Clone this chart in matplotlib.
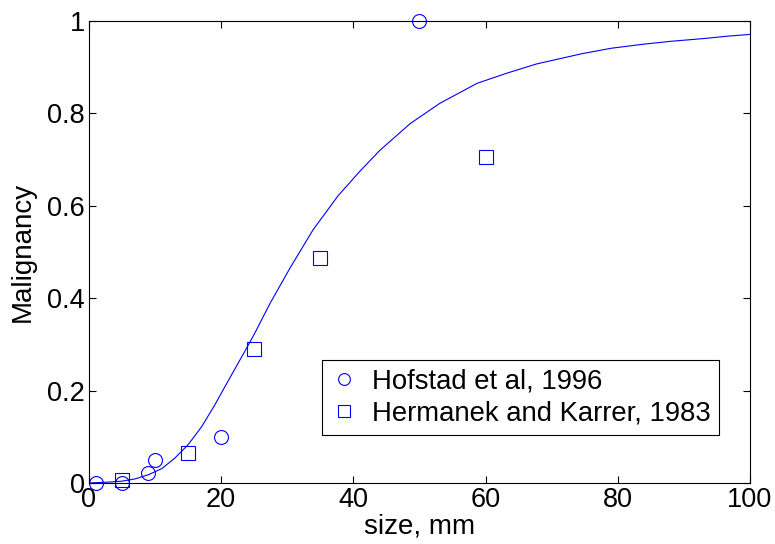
import numpy as np
import matplotlib
matplotlib.use("Agg")
import matplotlib.pyplot as plt

plt.rcParams['font.family'] = ['Liberation Sans', 'DejaVu Sans']

# fitted curve
curve_x = [0, 3, 5, 7, 9, 11, 13, 15, 17, 19, 20, 22, 24, 25, 27.4, 30.4,
           33.9, 37.7, 41, 44, 48.6, 53.1, 58.7, 63.2, 67.7, 74.5, 79, 84,
           88, 93, 96.5, 100]
curve_y = [0.0, 0.002, 0.004, 0.009, 0.018, 0.031, 0.054, 0.083, 0.121,
           0.168, 0.194, 0.245, 0.296, 0.322, 0.389, 0.465, 0.548, 0.622,
           0.675, 0.72, 0.778, 0.822, 0.865, 0.887, 0.907, 0.929, 0.941,
           0.950, 0.956, 0.962, 0.967, 0.971]

# Hofstad et al, 1996
hof_x = [1, 5, 9, 10, 20, 50]
hof_y = [0.0, 0.0, 0.021, 0.05, 0.1, 1.0]

# Hermanek and Karrer, 1983
her_x = [5, 15, 25, 35, 60]
her_y = [0.006, 0.066, 0.29, 0.488, 0.705]

fig = plt.figure(figsize=(7.75, 5.44), dpi=100)
ax = fig.add_axes([0.1148, 0.1121, 0.8529, 0.8493])

ax.plot(curve_x, curve_y, color='blue', lw=0.8)
ax.plot(hof_x, hof_y, 'o', mfc='none', mec='blue', ms=10, mew=0.8,
        clip_on=False, label='Hofstad et al, 1996')
ax.plot(her_x, her_y, 's', mfc='none', mec='blue', ms=10, mew=0.8,
        clip_on=False, label='Hermanek and Karrer, 1983')

ax.set_xlim(0, 100)
ax.set_ylim(0, 1)
ax.set_xticks([0, 20, 40, 60, 80, 100])
ax.set_yticks([0, 0.2, 0.4, 0.6, 0.8, 1])
ax.set_yticklabels(['0', '0.2', '0.4', '0.6', '0.8', '1'])
ax.tick_params(direction='in', top=True, right=True, length=5, width=0.8,
               labelsize=19.5, pad=3)
for s in ax.spines.values():
    s.set_linewidth(0.8)

ax.set_xlabel('size, mm', fontsize=20, labelpad=0)
ax.set_ylabel('Malignancy', fontsize=20, labelpad=8)

leg = ax.legend(loc='upper left', bbox_to_anchor=(0.352, 0.266), fontsize=19.8,
                fancybox=False, edgecolor='black', framealpha=1,
                borderaxespad=0, handlelength=1.0, handletextpad=0.5,
                borderpad=0.32, labelspacing=0.2, markerscale=0.85)
leg.get_frame().set_linewidth(0.8)

fig.savefig('out.png', dpi=100)
